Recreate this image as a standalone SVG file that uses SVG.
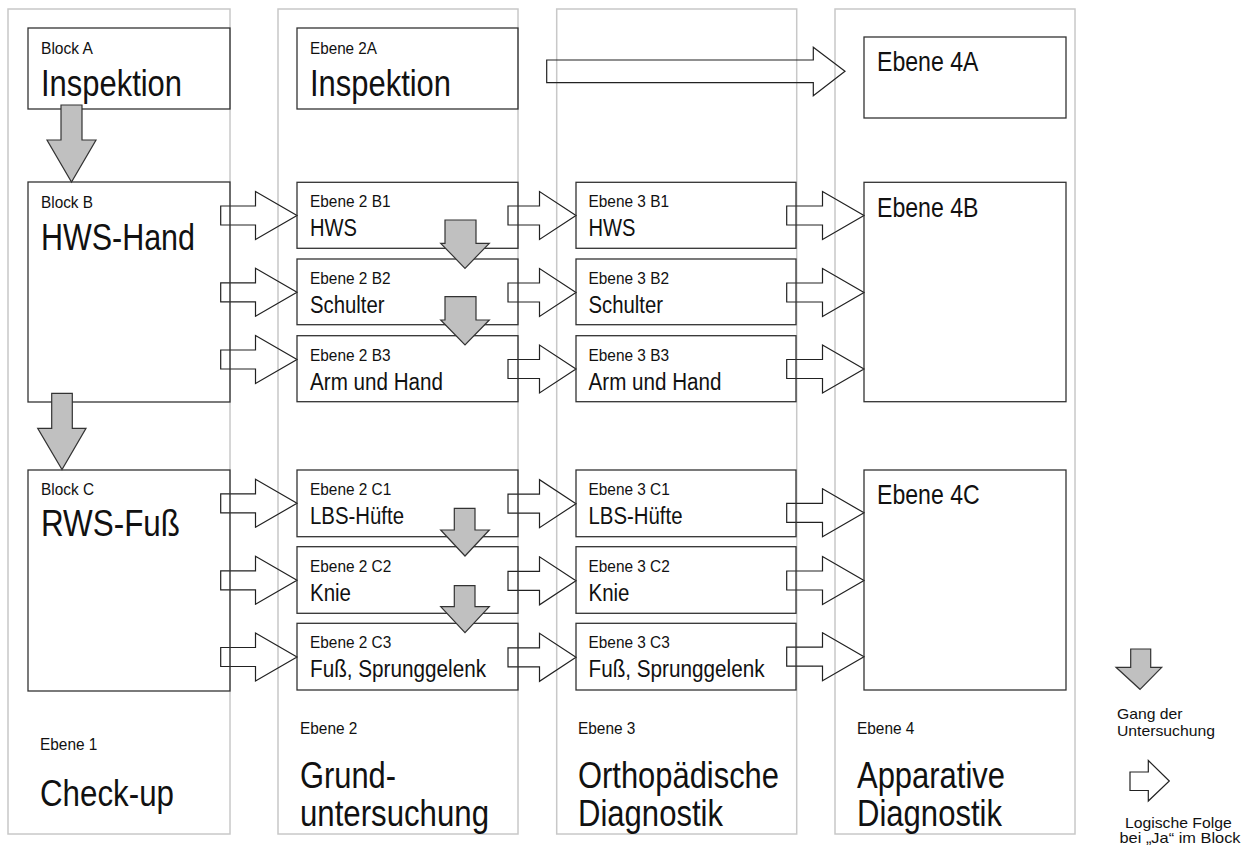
<svg xmlns="http://www.w3.org/2000/svg" width="1250" height="850" viewBox="0 0 1250 850">
<style>
.col{fill:none;stroke:#c8c8c8;stroke-width:1.5}
.box{fill:none;stroke:#333;stroke-width:1.3}
.wa{fill:none;stroke:#222;stroke-width:1.2;stroke-linejoin:miter}
.ga{fill:#c0c0c0;stroke:#333;stroke-width:1.2}
text{font-family:"Liberation Sans Narrow","Liberation Sans",Arial,sans-serif;fill:#111}
.s{font-size:17px}
.m{font-size:23px}
.l{font-size:37px}
.h{font-size:28px}
.lg{font-size:15px;font-family:"Liberation Sans",Arial,sans-serif}
</style>
<rect width="1250" height="850" fill="#fff"/>
<g id="columns">
<rect class="col" x="8" y="9" width="222" height="825"/>
<rect class="col" x="278" y="9" width="240" height="825"/>
<rect class="col" x="556.7" y="9" width="240" height="825"/>
<rect class="col" x="835" y="9" width="240" height="825"/>
</g>
<g id="connectors">
<path class="wa" d="M546.7,60 L813.3,60 L813.3,47.3 L845,71.3 L813.3,95.7 L813.3,82.7 L546.7,82.7 Z"/>
<path class="wa" d="M220.7,206 H255.5 V191.5 L297,215.5 L255.5,239.5 V225 H220.7 Z"/>
<path class="wa" d="M220.7,282.8 H255.5 V268.3 L297,292.3 L255.5,316.3 V301.8 H220.7 Z"/>
<path class="wa" d="M220.7,350 H255.5 V335.5 L297,359.5 L255.5,383.5 V369 H220.7 Z"/>
<path class="wa" d="M220.7,493.8 H255.5 V479.3 L297,503.3 L255.5,527.3 V512.8 H220.7 Z"/>
<path class="wa" d="M220.7,570.8 H255.5 V556.3 L297,580.3 L255.5,604.3 V589.8 H220.7 Z"/>
<path class="wa" d="M220.7,647.5 H255.5 V633 L297,657 L255.5,681 V666.5 H220.7 Z"/>
<path class="wa" d="M508,206 H539.5 V191.5 L576,215.5 L539.5,239.5 V225 H508 Z"/>
<path class="wa" d="M508,283 H539.5 V268.5 L576,292.5 L539.5,316.5 V302 H508 Z"/>
<path class="wa" d="M508,359.5 H539.5 V345 L576,369 L539.5,393 V378.5 H508 Z"/>
<path class="wa" d="M508,494.2 H539.5 V479.7 L576,503.7 L539.5,527.7 V513.2 H508 Z"/>
<path class="wa" d="M508,571.3 H539.5 V556.8 L576,580.8 L539.5,604.8 V590.3 H508 Z"/>
<path class="wa" d="M508,647.8 H539.5 V633.3 L576,657.3 L539.5,681.3 V666.8 H508 Z"/>
<path class="wa" d="M786.7,206 H822.5 V191.5 L864,215.5 L822.5,239.5 V225 H786.7 Z"/>
<path class="wa" d="M786.7,283 H822.5 V268.5 L864,292.5 L822.5,316.5 V302 H786.7 Z"/>
<path class="wa" d="M786.7,359.5 H822.5 V345 L864,369 L822.5,393 V378.5 H786.7 Z"/>
<path class="wa" d="M786.7,503.3 H822.5 V488.8 L864,512.8 L822.5,536.8 V522.3 H786.7 Z"/>
<path class="wa" d="M786.7,571 H822.5 V556.5 L864,580.5 L822.5,604.5 V590 H786.7 Z"/>
<path class="wa" d="M786.7,647.2 H822.5 V632.7 L864,656.7 L822.5,680.7 V666.2 H786.7 Z"/>
</g>
<g id="blockA">
<rect class="box" x="28" y="28" width="202" height="81"/>
<text class="s" x="41" y="54" textLength="52" lengthAdjust="spacingAndGlyphs">Block A</text>
<text class="l" x="41" y="96" textLength="141" lengthAdjust="spacingAndGlyphs">Inspektion</text>
</g>
<g id="blockB">
<rect class="box" x="28" y="182" width="202" height="220"/>
<text class="s" x="41" y="208" textLength="52" lengthAdjust="spacingAndGlyphs">Block B</text>
<text class="l" x="41" y="250" textLength="154" lengthAdjust="spacingAndGlyphs">HWS-Hand</text>
</g>
<g id="blockC">
<rect class="box" x="28" y="470" width="202" height="221"/>
<text class="s" x="41" y="495" textLength="53" lengthAdjust="spacingAndGlyphs">Block C</text>
<text class="l" x="41" y="536" textLength="139" lengthAdjust="spacingAndGlyphs">RWS-Fuß</text>
</g>
<g id="ebene2A">
<rect class="box" x="297" y="28" width="221" height="81"/>
<text class="s" x="310" y="54" textLength="67" lengthAdjust="spacingAndGlyphs">Ebene 2A</text>
<text class="l" x="310" y="96" textLength="141" lengthAdjust="spacingAndGlyphs">Inspektion</text>
</g>
<g id="ebene2B1">
<rect class="box" x="297" y="182.3" width="221" height="66"/>
<text class="s" x="310" y="207.3" textLength="80.5" lengthAdjust="spacingAndGlyphs">Ebene 2 B1</text>
<text class="m" x="310" y="236" textLength="47" lengthAdjust="spacingAndGlyphs">HWS</text>
</g>
<g id="ebene2B2">
<rect class="box" x="297" y="259" width="221" height="65.7"/>
<text class="s" x="310" y="284" textLength="80.5" lengthAdjust="spacingAndGlyphs">Ebene 2 B2</text>
<text class="m" x="310" y="313" textLength="74.5" lengthAdjust="spacingAndGlyphs">Schulter</text>
</g>
<g id="ebene2B3">
<rect class="box" x="297" y="335.7" width="221" height="66"/>
<text class="s" x="310" y="361" textLength="80.5" lengthAdjust="spacingAndGlyphs">Ebene 2 B3</text>
<text class="m" x="310" y="390" textLength="133" lengthAdjust="spacingAndGlyphs">Arm und Hand</text>
</g>
<g id="ebene2C1">
<rect class="box" x="297" y="470" width="221" height="66.7"/>
<text class="s" x="310" y="495" textLength="81.3" lengthAdjust="spacingAndGlyphs">Ebene 2 C1</text>
<text class="m" x="310" y="524" textLength="94" lengthAdjust="spacingAndGlyphs">LBS-Hüfte</text>
</g>
<g id="ebene2C2">
<rect class="box" x="297" y="546.7" width="221" height="66.6"/>
<text class="s" x="310" y="572" textLength="81.3" lengthAdjust="spacingAndGlyphs">Ebene 2 C2</text>
<text class="m" x="310" y="601" textLength="41" lengthAdjust="spacingAndGlyphs">Knie</text>
</g>
<g id="ebene2C3">
<rect class="box" x="297" y="623.3" width="221" height="66.7"/>
<text class="s" x="310" y="648" textLength="81.3" lengthAdjust="spacingAndGlyphs">Ebene 2 C3</text>
<text class="m" x="310" y="677" textLength="176" lengthAdjust="spacingAndGlyphs">Fuß, Sprunggelenk</text>
</g>
<g id="ebene3B1">
<rect class="box" x="576" y="182.3" width="220" height="66"/>
<text class="s" x="588.5" y="207.3" textLength="80.5" lengthAdjust="spacingAndGlyphs">Ebene 3 B1</text>
<text class="m" x="588.5" y="236" textLength="47" lengthAdjust="spacingAndGlyphs">HWS</text>
</g>
<g id="ebene3B2">
<rect class="box" x="576" y="259" width="220" height="65.7"/>
<text class="s" x="588.5" y="284" textLength="80.5" lengthAdjust="spacingAndGlyphs">Ebene 3 B2</text>
<text class="m" x="588.5" y="313" textLength="74.5" lengthAdjust="spacingAndGlyphs">Schulter</text>
</g>
<g id="ebene3B3">
<rect class="box" x="576" y="335.7" width="220" height="66"/>
<text class="s" x="588.5" y="361" textLength="80.5" lengthAdjust="spacingAndGlyphs">Ebene 3 B3</text>
<text class="m" x="588.5" y="390" textLength="133" lengthAdjust="spacingAndGlyphs">Arm und Hand</text>
</g>
<g id="ebene3C1">
<rect class="box" x="576" y="470" width="220" height="66.7"/>
<text class="s" x="588.5" y="495" textLength="81.3" lengthAdjust="spacingAndGlyphs">Ebene 3 C1</text>
<text class="m" x="588.5" y="524" textLength="94" lengthAdjust="spacingAndGlyphs">LBS-Hüfte</text>
</g>
<g id="ebene3C2">
<rect class="box" x="576" y="546.7" width="220" height="66.6"/>
<text class="s" x="588.5" y="572" textLength="81.3" lengthAdjust="spacingAndGlyphs">Ebene 3 C2</text>
<text class="m" x="588.5" y="601" textLength="41" lengthAdjust="spacingAndGlyphs">Knie</text>
</g>
<g id="ebene3C3">
<rect class="box" x="576" y="623.3" width="220" height="66.7"/>
<text class="s" x="588.5" y="648" textLength="81.3" lengthAdjust="spacingAndGlyphs">Ebene 3 C3</text>
<text class="m" x="588.5" y="677" textLength="176" lengthAdjust="spacingAndGlyphs">Fuß, Sprunggelenk</text>
</g>
<g id="ebene4A">
<rect class="box" x="864" y="37" width="202" height="81"/>
<text class="h" x="877" y="71" textLength="101.5" lengthAdjust="spacingAndGlyphs">Ebene 4A</text>
</g>
<g id="ebene4B">
<rect class="box" x="864" y="182.3" width="202" height="219.4"/>
<text class="h" x="877" y="216.5" textLength="101.5" lengthAdjust="spacingAndGlyphs">Ebene 4B</text>
</g>
<g id="ebene4C">
<rect class="box" x="864" y="470" width="202" height="220"/>
<text class="h" x="877" y="504.3" textLength="102.7" lengthAdjust="spacingAndGlyphs">Ebene 4C</text>
</g>
<g id="flow">
<path class="ga" d="M61,105 H82 V140 H96 L71.5,182 L47,140 H61 Z"/>
<path class="ga" d="M51.7,393.3 H72.3 V428.3 H86 L62,469.5 L37.7,428.3 H51.7 Z"/>
<path class="ga" d="M445,220 H476 V243.3 H489.3 L465,268.3 L440.7,243.3 H445 Z"/>
<path class="ga" d="M445,296.7 H476 V320 H489.3 L465,345 L440.7,320 H445 Z"/>
<path class="ga" d="M454.3,508.3 H475 V530 H489.3 L465,556 L440.7,530 H454.3 Z"/>
<path class="ga" d="M454.3,585.7 H475 V606.7 H489.3 L465,632.7 L440.7,606.7 H454.3 Z"/>
</g>
<g id="level1">
<text class="s" x="40" y="750" textLength="57.4" lengthAdjust="spacingAndGlyphs">Ebene 1</text>
<text class="l" x="40" y="806" textLength="134" lengthAdjust="spacingAndGlyphs">Check-up</text>
</g>
<g id="level2">
<text class="s" x="300" y="734" textLength="57.4" lengthAdjust="spacingAndGlyphs">Ebene 2</text>
<text class="l" x="300" y="788" textLength="96" lengthAdjust="spacingAndGlyphs">Grund-</text>
<text class="l" x="300" y="826" textLength="189" lengthAdjust="spacingAndGlyphs">untersuchung</text>
</g>
<g id="level3">
<text class="s" x="578" y="734" textLength="57.4" lengthAdjust="spacingAndGlyphs">Ebene 3</text>
<text class="l" x="578" y="788" textLength="201" lengthAdjust="spacingAndGlyphs">Orthopädische</text>
<text class="l" x="578" y="826" textLength="145" lengthAdjust="spacingAndGlyphs">Diagnostik</text>
</g>
<g id="level4">
<text class="s" x="857" y="734" textLength="57.4" lengthAdjust="spacingAndGlyphs">Ebene 4</text>
<text class="l" x="857" y="788" textLength="148" lengthAdjust="spacingAndGlyphs">Apparative</text>
<text class="l" x="857" y="826" textLength="145" lengthAdjust="spacingAndGlyphs">Diagnostik</text>
</g>
<g id="legend">
<path class="ga" d="M1130.7,649 H1150.7 V667.3 H1161.7 L1140,689.3 L1116,667.3 H1130.7 Z"/>
<text class="lg" x="1117" y="719" textLength="65.6" lengthAdjust="spacingAndGlyphs">Gang der</text>
<text class="lg" x="1117" y="736" textLength="98" lengthAdjust="spacingAndGlyphs">Untersuchung</text>
<path class="wa" d="M1130,772 H1148.3 V760.5 L1169.3,781 L1148.3,801 V790.5 H1130 Z"/>
<text class="lg" x="1125" y="828" textLength="106.7" lengthAdjust="spacingAndGlyphs">Logische Folge</text>
<text class="lg" x="1119.5" y="843" textLength="121" lengthAdjust="spacingAndGlyphs">bei „Ja“ im Block</text>
</g>
</svg>
